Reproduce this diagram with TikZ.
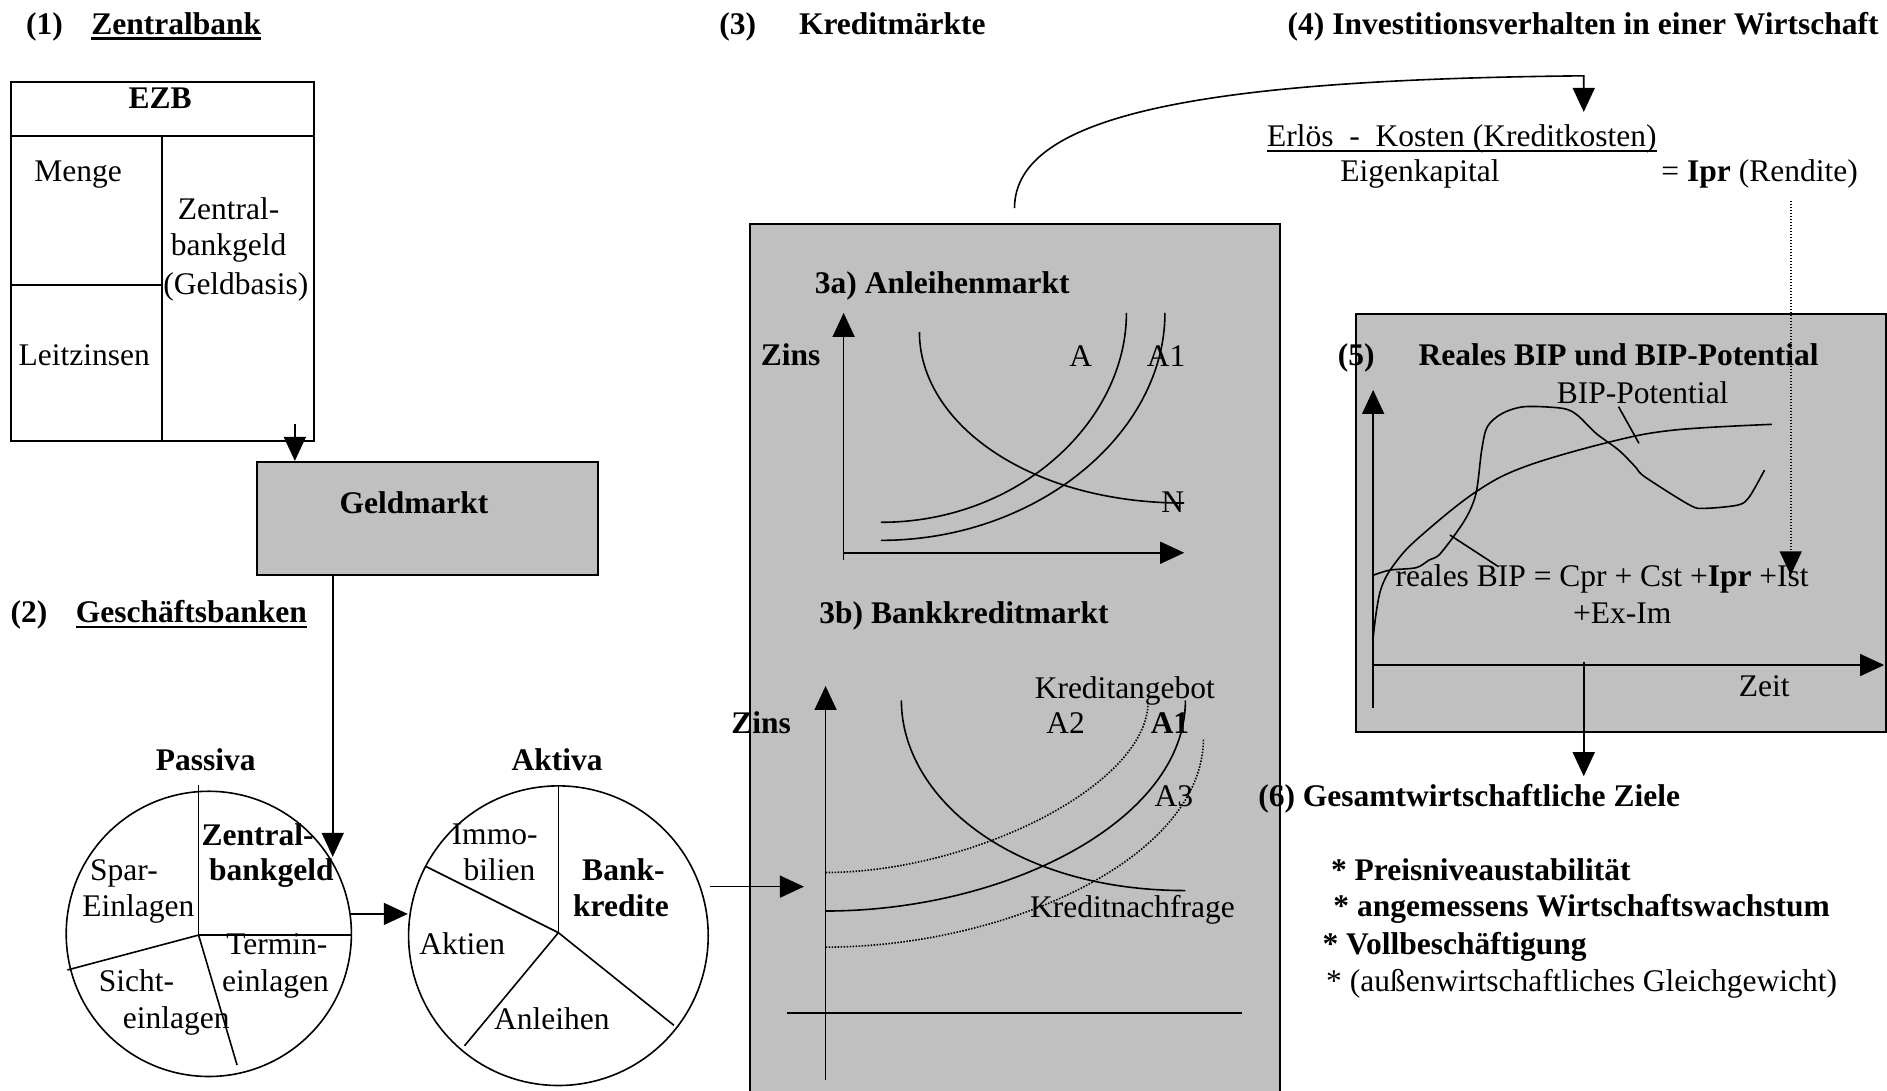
\documentclass[tikz,border=0pt]{standalone}
\usepackage{fontspec}
\setmainfont{Liberation Serif}
\usetikzlibrary{arrows.meta}
\definecolor{boxgray}{HTML}{C0C0C0}
\tikzset{
  txt/.style={inner sep=0pt, outer sep=0pt, anchor=base, font=\fontsize{31.5}{36.5}\selectfont},
  btxt/.style={txt, font=\fontsize{31.5}{36.5}\selectfont\bfseries},
  ln/.style={line width=1.6pt},
  boxln/.style={line width=2pt},
  arr/.style={ln, -{Triangle[length=24pt,width=22pt]}},
  dotln/.style={line width=1.6pt, dash pattern=on 1.5pt off 1.5pt},
  ul/.style={line width=2.5pt},
}
\begin{document}
\begin{tikzpicture}[x=1.2034pt,y=-1.2034pt]
\useasboundingbox (0,0) rectangle (1568,906);

% ---------- boxes ----------
\node[boxln, draw, fill=boxgray, anchor=north west, minimum width=530.7pt, minimum height=900pt, inner sep=0pt] (km) at (622,185) {};
\node[boxln, draw, fill=boxgray, anchor=north west, minimum width=529.5pt, minimum height=417.6pt, inner sep=0pt] (bip) at (1126,260) {};
\node[boxln, draw, fill=boxgray, anchor=north west, minimum width=340.6pt, minimum height=113.1pt, inner sep=0pt] (geld) at (213,383) {};
\node[boxln, draw, anchor=north west, minimum width=303.3pt, minimum height=359.8pt, inner sep=0pt] (ezb) at (8,67) {};
\draw[boxln] (8,113) -- (260,113);
\draw[boxln] (135,113) -- (135,366);
\draw[boxln] (8,237) -- (135,237);

% ---------- circles ----------
\node[ln, draw, circle, minimum size=285.2pt, inner sep=0pt] (passiva) at (173.5,776) {};
\node[ln, draw, circle, minimum size=299.6pt, inner sep=0pt] (aktiva) at (464,777.5) {};
\coordinate (pj) at (165,777);
\draw[ln] (165,652) -- (pj) -- (292,777);
\draw[ln] (pj) -- (56,806);
\draw[ln] (pj) -- (197,885);
\coordinate (aj) at (464,775);
\draw[ln] (464,653) -- (aj);
\draw[ln] (aj) -- (354,720);
\draw[ln] (aj) -- (386,869);
\draw[ln] (aj) -- (560,852);

% ---------- connectors ----------
\coordinate (ezbout) at (245,352);
\draw[arr] (ezbout) -- (ezbout |- geld.north);
\coordinate (gmx) at (276.5,712);
\draw[arr] (gmx |- geld.south) -- (gmx);
\draw[arr] (passiva.8) -- (passiva.8 -| aktiva.west);
\coordinate (zaxis) at (668,737);
\draw[arr] ([xshift=9pt]aktiva.19) -- (aktiva.19 -| zaxis);
\coordinate (kmtop) at (843,173);
\coordinate (formula) at (1316,93);
\draw[arr] (kmtop) .. controls (843,95) and (1000,66) .. (1316,63) -- (formula);
\coordinate (iprtop) at (1488,167);
\coordinate (ist) at (1488,478);
\draw[dotln, -{Triangle[length=24pt,width=22pt]}] (iprtop) -- (ist);
\coordinate (bipout) at (1316,550);
\coordinate (ziele) at (1316,645);
\draw[arr] (bipout) -- (ziele);

% ---------- 3a chart ----------
\draw[arr] (701,465) -- (701,260);
\draw[arr] (701,459.3) -- (984,459.3);
\draw[ln] (732,434) .. controls (847,434) and (936,350) .. (936,260);
\draw[ln] (732,449) .. controls (862,449) and (968,360) .. (968,260);
\draw[ln] (764,276) .. controls (764,351) and (854,418) .. (984,418);

% ---------- 3b chart ----------
\draw[arr] (686,897.5) -- (686,570);
\draw[ln] (654,841.5) -- (1031.7,841.5);
\draw[ln] (749,582) .. controls (749,662) and (840,740) .. (985,740);
\draw[ln] (686,757) .. controls (836,757) and (985,682) .. (985,582);
\draw[dotln] (686,725) .. controls (806,725) and (954,653) .. (954,583);
\draw[dotln] (686,787) .. controls (836,787) and (1000,713) .. (1000,613.5);

% ---------- 5 chart ----------
\draw[arr] (1141,588.6) -- (1141,324);
\draw[arr] (1141,552.6) -- (1565.6,552.6);
\draw[ln] plot[smooth, tension=0.6] coordinates {(1141,530) (1147.2,490.3) (1161.2,465.3) (1183,443.2) (1226.5,408.6) (1267,387.8) (1338.6,367) (1391.5,357.3) (1472.4,352.6)};
\draw[ln] plot[smooth, tension=0.5] coordinates {(1141.6,477.8) (1155,473.7) (1176.8,471.7) (1187.6,465.3) (1197,459.8) (1217.2,432.1) (1226.5,409.9) (1231.2,373.9) (1235.9,354.5) (1248.3,343.5) (1267,337.9) (1298.2,339.3) (1310.6,344.9) (1326.2,360.1) (1344.9,373.9) (1358.8,387.8) (1366.6,396.1) (1403.9,419.6) (1416.4,422.4) (1444.4,419.6) (1453.7,412.7) (1466.2,390.6)};
\draw[ln] (1344.9,337.9) -- (1361.9,368.4);
\draw[ln] (1204.8,444.6) -- (1245.2,470.9);

% ---------- texts: headers ----------
\node[btxt] (h1n) at (37,28.5) {(1)};
\node[btxt] (h1) at (146.5,28.5) {Zentralbank};
\draw[ul] ([yshift=-4pt]h1.base west) -- ([yshift=-4pt]h1.base east);
\node[btxt] (h3n) at (613,28.5) {(3)};
\node[btxt] (h3) at (741.5,28.5) {Kreditmärkte};
\node[btxt] (h4) at (1315.5,28.5) {(4) Investitionsverhalten in einer Wirtschaft};
\node[btxt] (h2n) at (24,517.5) {(2)};
\node[btxt] (h2) at (159,517.5) {Geschäftsbanken};
\draw[ul] ([yshift=-4pt]h2.base west) -- ([yshift=-4pt]h2.base east);

% ---------- EZB texts ----------
\node[btxt] (tezb) at (133,90.5) {EZB};
\node[txt] (tmenge) at (65,150.5) {Menge};
\node[txt] (tzb1) at (190,182.5) {Zentral-};
\node[txt] (tzb2) at (190,212.5) {bankgeld};
\node[txt] (tzb3) at (196,244.5) {(Geldbasis)};
\node[txt] (tleit) at (70,303.5) {Leitzinsen};
\node[btxt] (tgeld) at (344,426.5) {Geldmarkt};

% ---------- Passiva / Aktiva ----------
\node[btxt] (tpass) at (171,640.5) {Passiva};
\node[btxt] (tp1) at (214,702.5) {Zentral-};
\node[btxt] (tp2) at (225.5,731.5) {bankgeld};
\node[txt] (tp3) at (103,731.5) {Spar-};
\node[txt] (tp4) at (115,761.5) {Einlagen};
\node[txt] (tp5) at (230,793.5) {Termin-};
\node[txt] (tp6) at (229,823.5) {einlagen};
\node[txt] (tp7) at (113.5,823.5) {Sicht-};
\node[txt] (tp8) at (146.5,854.5) {einlagen};
\node[btxt] (takt) at (463,640.5) {Aktiva};
\node[txt] (ta1) at (411,701.5) {Immo-};
\node[txt] (ta2) at (415,731.5) {bilien};
\node[btxt] (ta3) at (518,731.5) {Bank-};
\node[btxt] (ta4) at (516,761.5) {kredite};
\node[txt] (ta5) at (384,793.5) {Aktien};
\node[txt] (ta6) at (458.5,855.5) {Anleihen};

% ---------- 3a / 3b texts ----------
\node[btxt] (t3a) at (783,244) {3a) Anleihenmarkt};
\node[btxt] (tz1) at (657,303.5) {Zins};
\node[txt] (tA) at (898,304.5) {A};
\node[txt] (tA1) at (969,304.5) {A1};
\node[txt] (tN) at (974.4,426) {N};
\node[btxt] (t3b) at (801,518) {3b) Bankkreditmarkt};
\node[btxt] (tz2) at (632.5,609.5) {Zins};
\node[txt] (tka) at (934.7,580.5) {Kreditangebot};
\node[txt] (tA2) at (885.4,609.5) {A2};
\node[btxt] (tA1b) at (972.2,609.5) {A1};
\node[txt] (tA3) at (975.4,670.5) {A3};
\node[txt] (tkn) at (941,762) {Kreditnachfrage};

% ---------- section 4 ----------
\node[txt, anchor=base west] (terl) at (1053,122) {Erlös\ \ -\ \ Kosten (Kreditkosten)};
\draw[ul] ([yshift=-4pt]terl.base west) -- ([yshift=-4pt]terl.base east);
\node[txt, anchor=base west] (teig) at (1113.7,151) {Eigenkapital};
\node[txt, anchor=base west] (tipr) at (1380.6,151) {= \textbf{Ipr} (Rendite)};

% ---------- section 5 ----------
\node[btxt] (t5n) at (1127,303.5) {(5)};
\node[btxt] (t5) at (1345,303.5) {Reales BIP und BIP-Potential};
\node[txt] (tpot) at (1365,335.5) {BIP-Potential};
\node[txt, anchor=base west] (treal) at (1159.6,487.5) {reales BIP = Cpr + Cst +\textbf{Ipr} +Ist};
\node[txt] (texim) at (1348,518) {+Ex-Im};
\node[txt] (tzeit) at (1466,579) {Zeit};

% ---------- section 6 ----------
\node[btxt, anchor=base west] (t6) at (1045.6,670.5) {(6) Gesamtwirtschaftliche Ziele};
\node[btxt, anchor=base west] (g1) at (1106,731.5) {* Preisniveaustabilität};
\node[btxt, anchor=base west] (g2) at (1108,761.5) {* angemessens Wirtschaftswachstum};
\node[btxt, anchor=base west] (g3) at (1099,793.5) {* Vollbeschäftigung};
\node[txt, anchor=base west] (g4) at (1102,823.5) {* (außenwirtschaftliches Gleichgewicht)};
\end{tikzpicture}
\end{document}
